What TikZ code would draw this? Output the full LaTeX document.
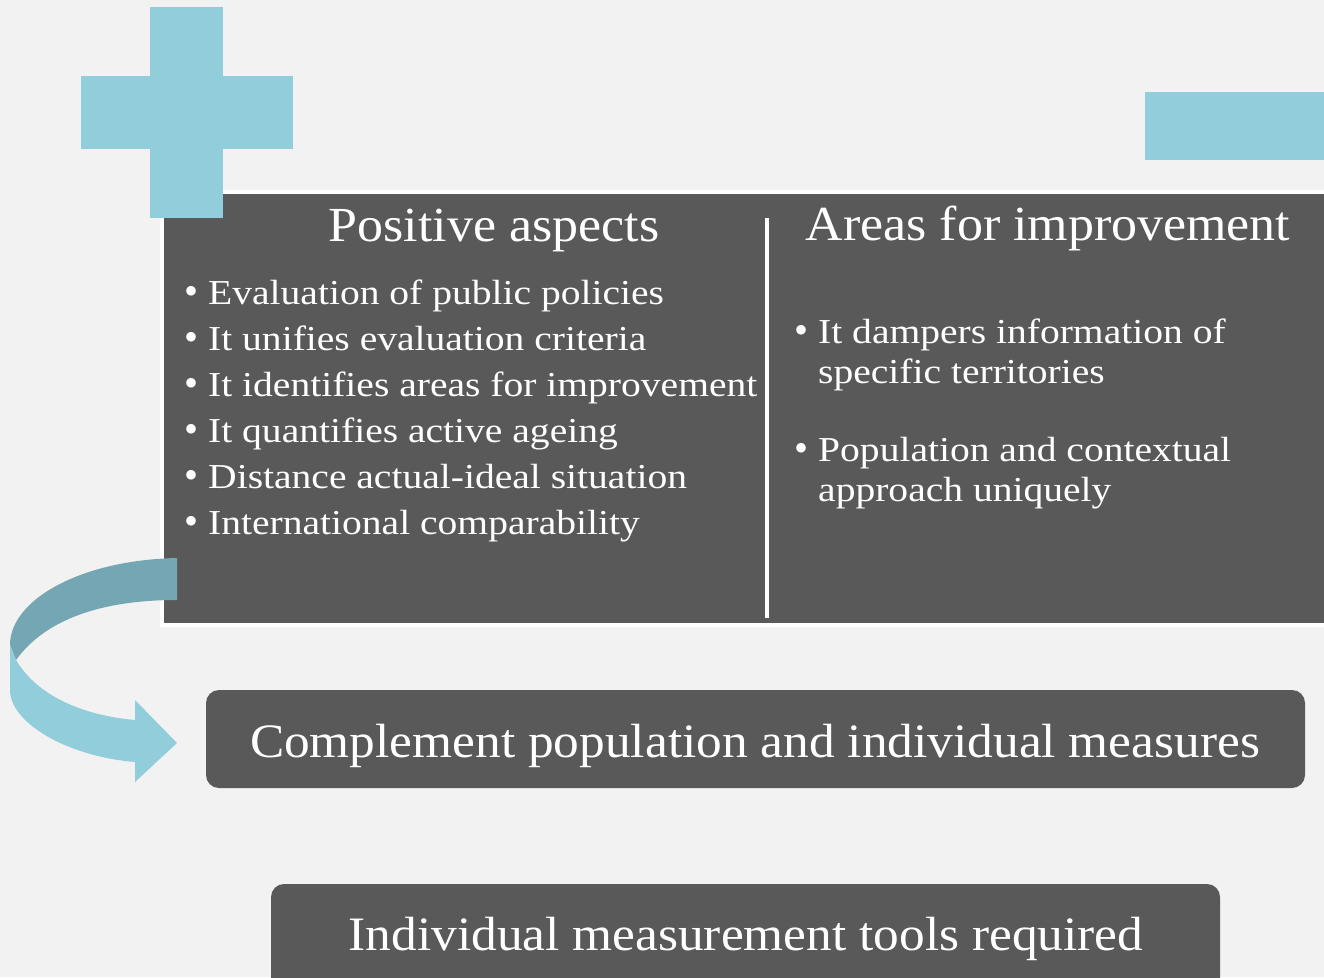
\documentclass[tikz,border=0pt]{standalone}
\usepackage{fontspec}
\setmainfont{Liberation Serif}
\newfontfamily\itemfont[FakeStretch=1.13]{Liberation Serif}
\newfontfamily\headfont[FakeStretch=1.06]{Liberation Serif}
\newfontfamily\bigfont[FakeStretch=1.07]{Liberation Serif}
\definecolor{bg}{HTML}{F2F2F2}
\definecolor{panel}{HTML}{595959}
\definecolor{lightblue}{HTML}{92CDDC}
\definecolor{darkblue}{HTML}{74A7B3}

\begin{document}
\begin{tikzpicture}[x=1pt,y=-1pt,
  heading/.style={anchor=base,text=white,inner sep=0pt,font=\headfont\fontsize{49}{55}\selectfont},
  item/.style={anchor=base west,text=white,inner sep=0pt,font=\itemfont\fontsize{35}{40}\selectfont},
  dot/.style={anchor=base,text=white,inner sep=0pt,font=\fontsize{40}{40}\selectfont},
  darkbox/.style={fill=panel,rounded corners=13pt,inner sep=0pt},
  bigtext/.style={anchor=base,text=white,inner sep=0pt,font=\bigfont\fontsize{48}{54}\selectfont}]
  \useasboundingbox[fill=bg] (0,0) rectangle (1324,977);

  % main panel with white rim
  \coordinate (nw) at (161.5,191.5);
  \coordinate (se) at (1345,625);
  \draw[white,line width=4pt,fill=panel] (nw) rectangle (se);
  \coordinate (divtop) at (767,218);
  \coordinate (divbot) at (767,618);
  \draw[white,line width=3.5pt] (divtop) -- (divbot);

  % plus and minus signs
  \fill[lightblue] (150,7) rectangle (223,218);
  \fill[lightblue] (81,76) rectangle (293,149);
  \fill[lightblue] (1145,92) rectangle (1330,160);

  % headings
  \node[heading] (pos) at (494,241) {Positive aspects};
  \node[heading] (neg) at (1048,240) {Areas for improvement};

  % left column
  \foreach \txt [count=\i from 0] in {Evaluation of public policies,
      It unifies evaluation criteria,
      It identifies areas for improvement,
      It quantifies active ageing,
      Distance actual-ideal situation,
      International comparability}{
    \node[dot] (ldot\i) at (191,304+46*\i) {\textbullet};
    \node[item] (litem\i) at (208,304+46*\i) {\txt};
  }

  % right column
  \node[dot] (rdot0) at (801,343) {\textbullet};
  \node[item] (ritem0) at (818,343) {It dampers information of};
  \node[item] (ritem1) at (818,383) {specific territories};
  \node[dot] (rdot1) at (801,461) {\textbullet};
  \node[item] (ritem2) at (818,461) {Population and contextual};
  \node[item] (ritem3) at (818,501) {approach uniquely};

  % lower boxes
  \node[darkbox,minimum width=1099pt,minimum height=98pt] (comp) at (755.5,739) {};
  \node[bigtext] (comptxt) at (755,757) {Complement population and individual measures};
  \node[darkbox,minimum width=949pt,minimum height=120pt] (indiv) at (745.5,944) {};
  \node[bigtext] (indivtxt) at (746,950) {Individual measurement tools required};

  % curved arrow from panel to complement box
  \coordinate (turn) at (10,645);
  \fill[darkblue] (177,558) .. controls (80,560) and (10,600) .. (turn)
    -- (16,660) .. controls (45,620) and (100,600) .. (177,600) -- cycle;
  \fill[lightblue] (turn) -- (16,660) .. controls (40,700) and (90,716) .. (135,720)
    -- (135,700) -- (177,743) -- (135,782) -- (135,762)
    .. controls (65,756) and (10,722) .. (10,690) -- cycle;
\end{tikzpicture}
\end{document}
